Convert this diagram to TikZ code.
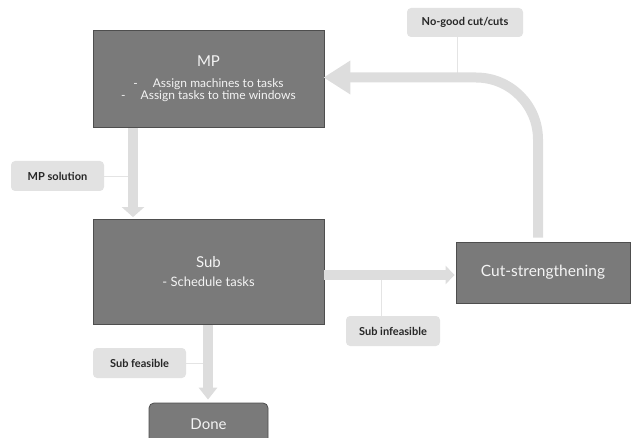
\documentclass[tikz,border=0pt]{standalone}
\usepackage{fontspec}
\setmainfont{Lato}
\usetikzlibrary{arrows.meta,calc}
\definecolor{boxgray}{HTML}{7A7A7A}
\definecolor{boxedge}{HTML}{4E4E4E}
\definecolor{boxtext}{HTML}{F4F4F4}
\definecolor{flowgray}{HTML}{DDDDDD}
\definecolor{lblfill}{HTML}{E2E2E2}
\definecolor{lbltext}{HTML}{262626}
\definecolor{conngray}{HTML}{E4E4E4}
\tikzset{
  mainbox/.style={draw=boxedge, line width=0.8pt, fill=boxgray, text=boxtext, align=center, inner sep=2pt},
  lbl/.style={fill=lblfill, text=lbltext, rounded corners=4pt, font=\fontsize{11}{13}\selectfont\bfseries, inner sep=2pt},
  flow/.style={draw=flowgray, line width=10pt},
  conn/.style={draw=conngray, line width=0.8pt}
}
\begin{document}
\begin{tikzpicture}[x=1pt,y=-1pt]
\useasboundingbox (0,0) rectangle (637,438);
\clip (0,0) rectangle (637,438);

\node[mainbox, minimum width=231pt, minimum height=97pt] (mp) at (208.5,79)
  {{\fontsize{15}{16}\selectfont MP}\\[9pt]
   {\fontsize{12}{16.5}\selectfont -\hspace{15pt}Assign machines to tasks}\\
   {\fontsize{12}{16.5}\selectfont -\hspace{15pt}Assign tasks to time windows}};
\node[mainbox, minimum width=231pt, minimum height=105pt] (sub) at (208.5,272)
  {{\fontsize{15}{16}\selectfont Sub}\\[7pt]
   {\fontsize{13}{14}\selectfont - Schedule tasks}};
\node[mainbox, minimum width=174pt, minimum height=61pt] (cut) at (543,272.5)
  {\fontsize{15.5}{18}\selectfont Cut-strengthening};
\node[mainbox, rounded corners=5pt, minimum width=119pt, minimum height=42pt] (done) at (208.5,424)
  {\fontsize{15}{18}\selectfont Done};

\node[lbl, minimum width=116pt, minimum height=29pt] (lnogood) at (465,22.5) {No-good cut/cuts};
\node[lbl, minimum width=93pt, minimum height=30pt] (lmpsol) at (57.5,176) {MP solution};
\node[lbl, minimum width=94pt, minimum height=30pt] (lsubinf) at (393,331) {Sub infeasible};
\node[lbl, minimum width=93pt, minimum height=30pt] (lsubfeas) at (139.5,363) {Sub feasible};

\coordinate (jnogood) at (457,77);
\coordinate (jmpsol) at (133,176);
\coordinate (jsubinf) at (381,275);
\coordinate (jsubfeas) at (208,363);

\draw[conn] (lnogood.south -| jnogood) -- (jnogood);
\draw[conn] (lmpsol.east) -- (jmpsol);
\draw[conn] (lsubinf.north -| jsubinf) -- (jsubinf);
\draw[conn] (lsubfeas.east) -- (jsubfeas);

\draw[flow, -{Triangle[width=22pt,length=10pt]}, shorten >=2pt]
  ([xshift=-75.5pt]mp.south) -- ([xshift=-75.5pt]sub.north);
\draw[flow, -{Triangle[width=18pt,length=9pt]}, shorten >=1pt]
  ($(cut.west -| sub.east)+(0,2.5)$) -- ($(cut.west)+(0,2.5)$);
\draw[flow, -{Triangle[width=18pt,length=12pt]}, shorten >=3pt]
  ([xshift=-0.5pt]sub.south) -- ([xshift=-0.5pt]done.north);
\draw[flow, rounded corners=62pt, -{Triangle[width=32pt,length=27pt]}, shorten >=-1pt]
  ($(cut.north)+(-5,-4)$) |- ($(mp.east)+(0,-1.5)$);
\end{tikzpicture}
\end{document}
